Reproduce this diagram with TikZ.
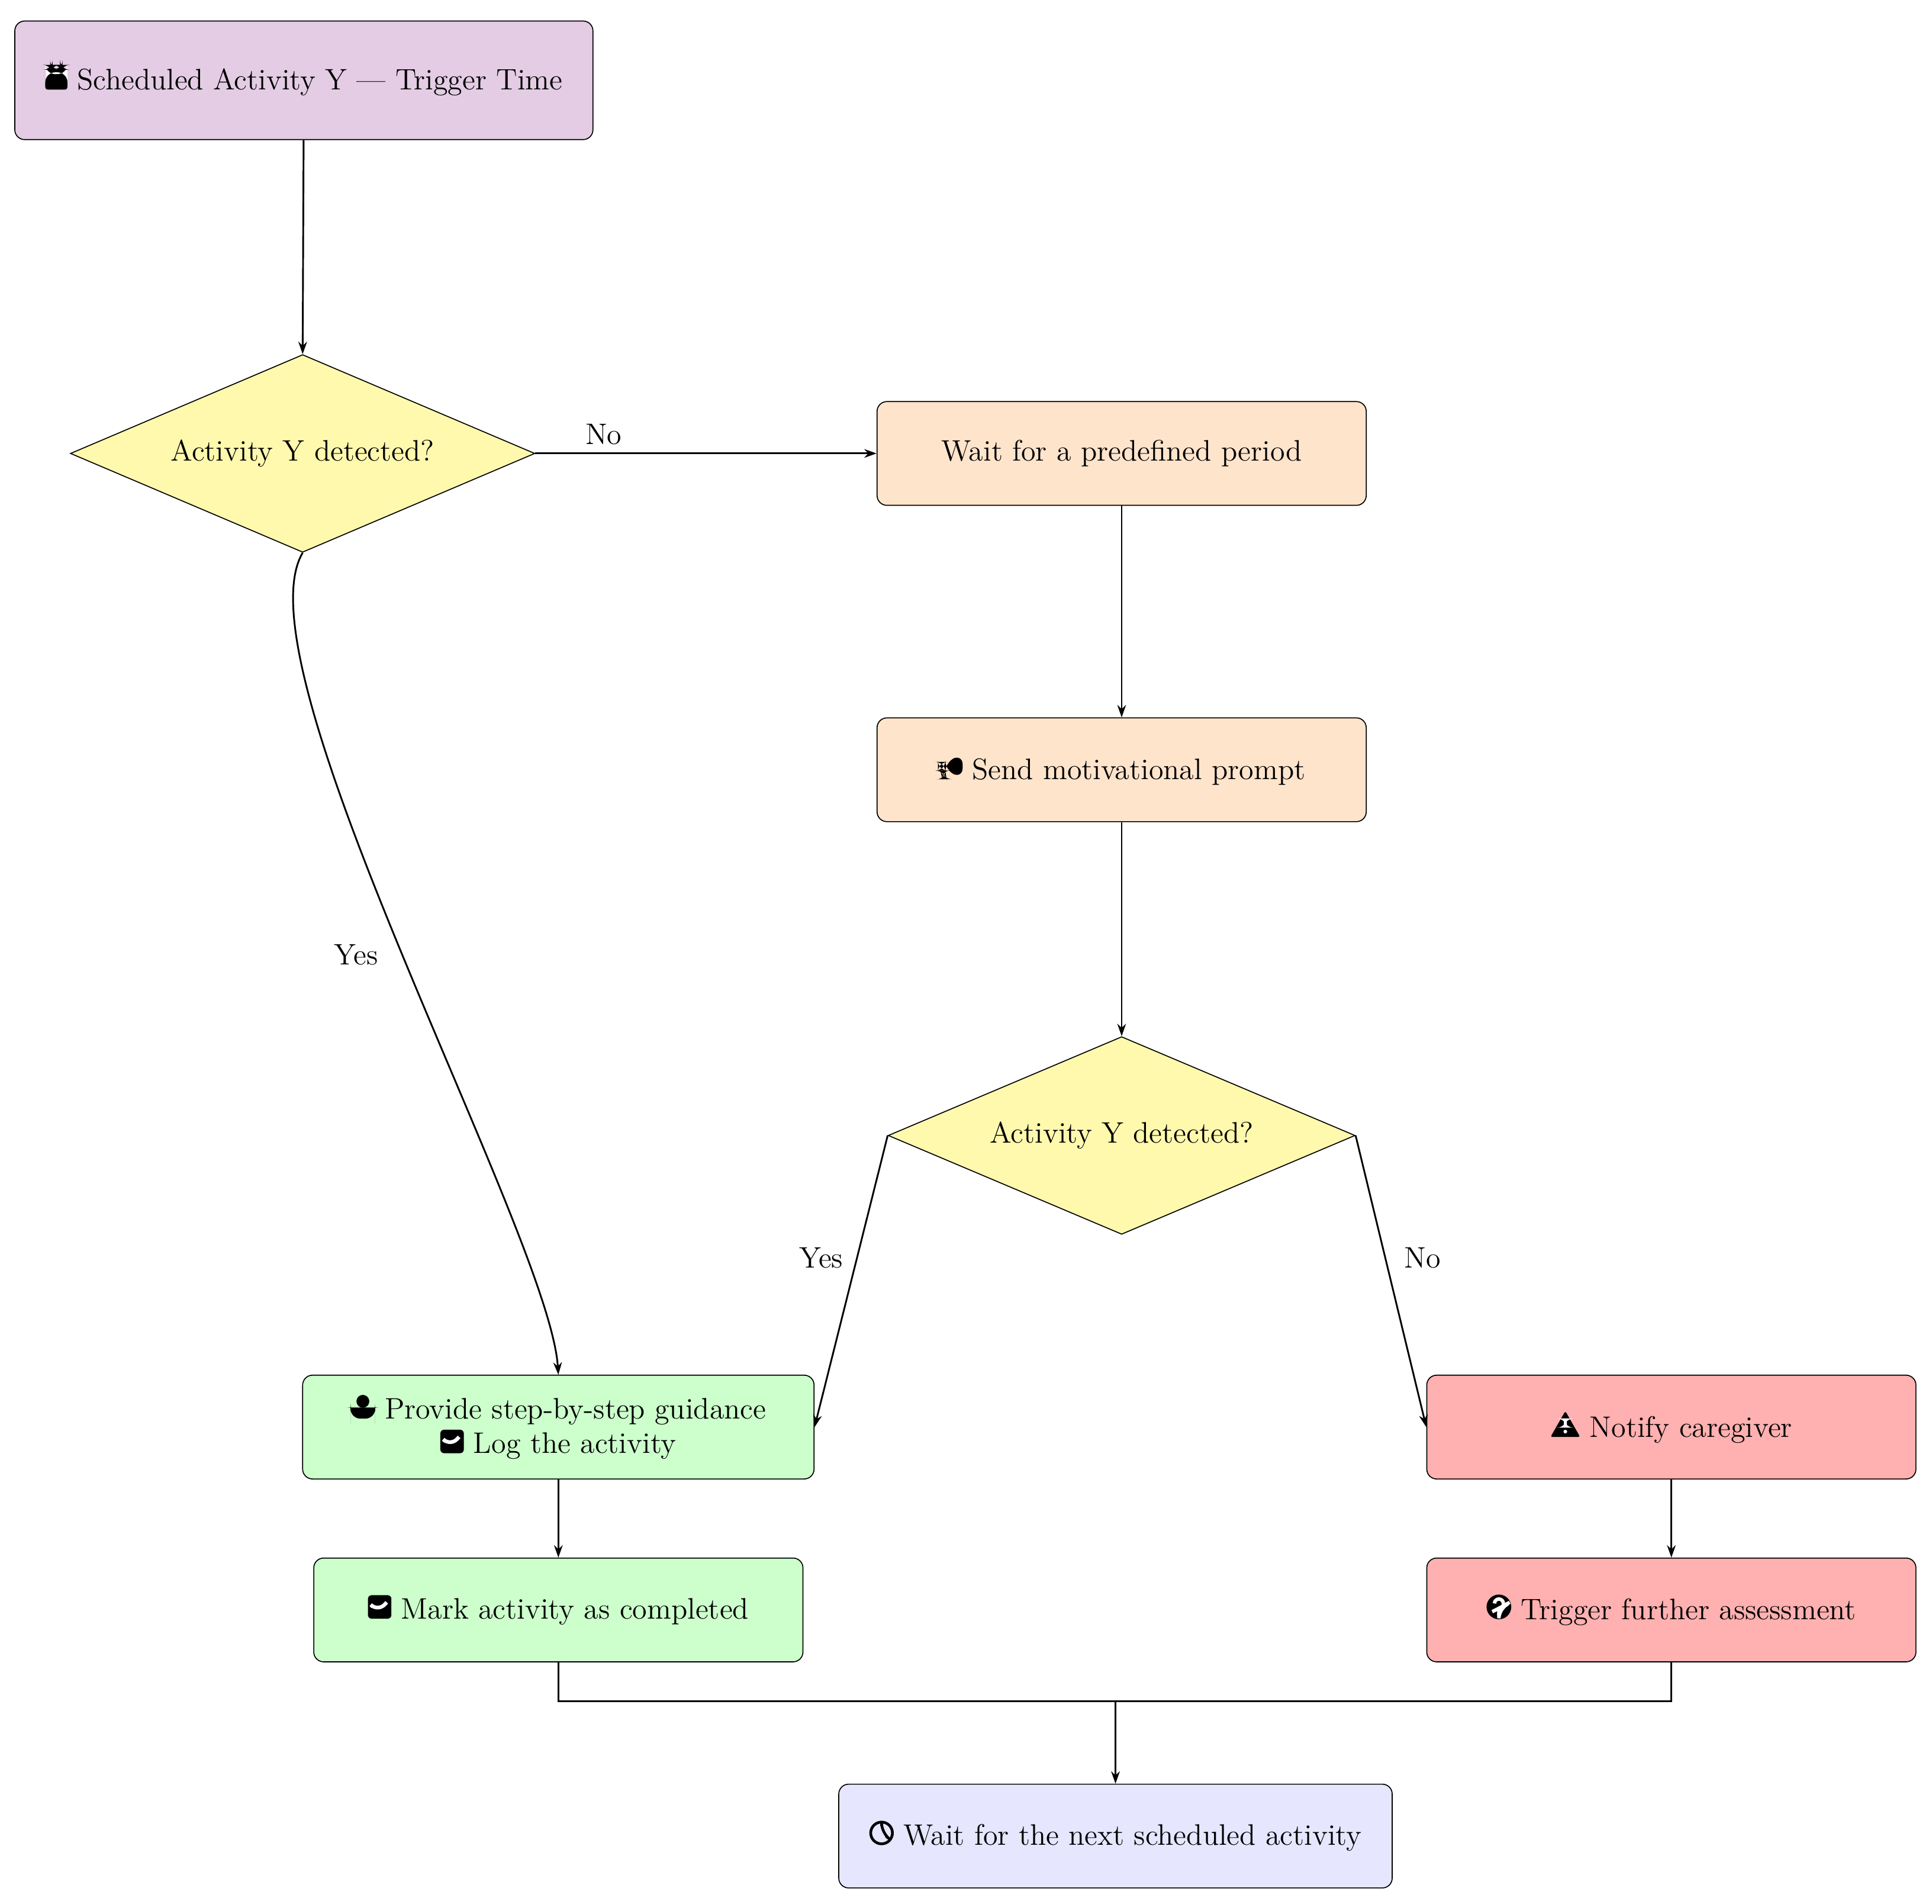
\documentclass[tikz,border=0pt]{standalone}
\usetikzlibrary{shapes.geometric,arrows.meta}
\definecolor{cpur}{HTML}{E3CCE4}
\definecolor{cyel}{HTML}{FFF9AE}
\definecolor{cora}{HTML}{FFE4CC}
\definecolor{cgrn}{HTML}{CCFFCC}
\definecolor{cred}{HTML}{FFB0B0}
\definecolor{clav}{HTML}{E6E6FF}
\tikzset{ic/.style={x=1pt,y=1pt,baseline=0pt}}
\newcommand\icCal{\tikz[ic]{\fill[rounded corners=1pt] (0,0) rectangle (9,8.5);\fill[white] (0,6.3) rectangle (9,7);\fill (2,8) rectangle (3,10);\fill (6,8) rectangle (7,10);}}
\newcommand\icHorn{\tikz[ic]{\fill (0,3.5) rectangle (3,7);\fill (3,3.5)--(10,0.5)--(10,10)--(3,7)--cycle;\fill (1,3.5)--(3,3.5)--(3.5,0)--(1.8,0)--cycle;}}
\newcommand\icUser{\tikz[ic]{\fill (5,7) circle (2.6);\fill (0,0)--(0,2) arc[start angle=180,end angle=90,radius=2.5]--(7.5,4.5) arc[start angle=90,end angle=0,radius=2.5]--(10,0)--cycle;}}
\newcommand\icChk{\tikz[ic]{\fill[rounded corners=1.5pt] (0,0) rectangle (9.5,9.5);\draw[white,line width=1.5pt] (2,4.8)--(4,2.8)--(7.6,6.6);}}
\newcommand\icWarn{\tikz[ic]{\fill[rounded corners=0.8pt] (0,0)--(12,0)--(6,10.5)--cycle;\fill[white] (5.4,3.8) rectangle (6.6,7.5);\fill[white] (6,2.2) circle (0.75);}}
\newcommand\icQ{\tikz[ic]{\fill (5,5) circle (5);\draw[white,line width=1.4pt] (3.2,6.4) arc[start angle=180,end angle=-60,radius=1.8]--(5,4.4)--(5,3.6);\fill[white] (5,2) circle (0.8);}}
\newcommand\icClk{\tikz[ic]{\draw[line width=1.1pt] (5,5) circle (4.4);\draw[line width=1.1pt,line cap=round] (5,8)--(5,5)--(7,3.5);}}
\begin{document}
\begin{tikzpicture}[x=0.5pt,y=-0.5pt,font=\large,
  box/.style={draw,rounded corners=4pt,minimum width=198pt,minimum height=42pt,align=center,inner sep=2pt},
  dia/.style={draw,diamond,fill=cyel,aspect=2.35,minimum width=188pt,minimum height=80pt,inner sep=0pt},
  arr/.style={draw,line width=0.7pt,-{Stealth[length=5pt,width=3.5pt]}},
  lab/.style={font=\large}]
\useasboundingbox (0,0) rectangle (1564,1541);
\node[box,fill=cpur,minimum width=234pt,minimum height=48pt] (start) at (246,65) {\icCal\ Scheduled Activity Y --- Trigger Time};
\node[dia] (d1) at (245,367) {Activity Y detected?};
\node[box,fill=cora] (wait) at (908,367) {Wait for a predefined period};
\node[box,fill=cora] (send) at (908,623) {\icHorn\ Send motivational prompt};
\node[dia,minimum width=189pt] (d2) at (908,919) {Activity Y detected?};
\node[box,fill=cgrn,minimum width=207pt] (guide) at (452,1155) {\icUser\ Provide step-by-step guidance\\ \icChk\ Log the activity};
\node[box,fill=cgrn] (mark) at (452,1303) {\icChk\ Mark activity as completed};
\node[box,fill=cred] (notify) at (1353,1155) {\icWarn\ Notify caregiver};
\node[box,fill=cred] (trig) at (1353,1303) {\icQ\ Trigger further assessment};
\node[box,fill=clav,minimum width=224pt] (next) at (903,1486) {\icClk\ Wait for the next scheduled activity};
\coordinate (j) at (903,1377);
\path[arr] (start) -- (d1.north);
\path[arr] (d1.east) -- node[lab,above,pos=0.2] {No} (wait.west);
\path[arr] (d1.south) .. controls (190,540) and (445,1000) .. node[lab,pos=0.5,left=6pt] {Yes} (guide.north);
\path[arr] (wait) -- (send);
\path[arr] (send) -- (d2.north);
\path[arr] (d2.west) -- node[lab,pos=0.42,left=2pt] {Yes} (guide.east);
\path[arr] (d2.east) -- node[lab,pos=0.42,right=4pt] {No} (notify.west);
\path[arr] (guide) -- (mark);
\path[arr] (notify) -- (trig);
\draw[line width=0.7pt] (mark.south) |- (j) -| (trig.south);
\path[arr] (j) -- (next.north);
\end{tikzpicture}
\end{document}
